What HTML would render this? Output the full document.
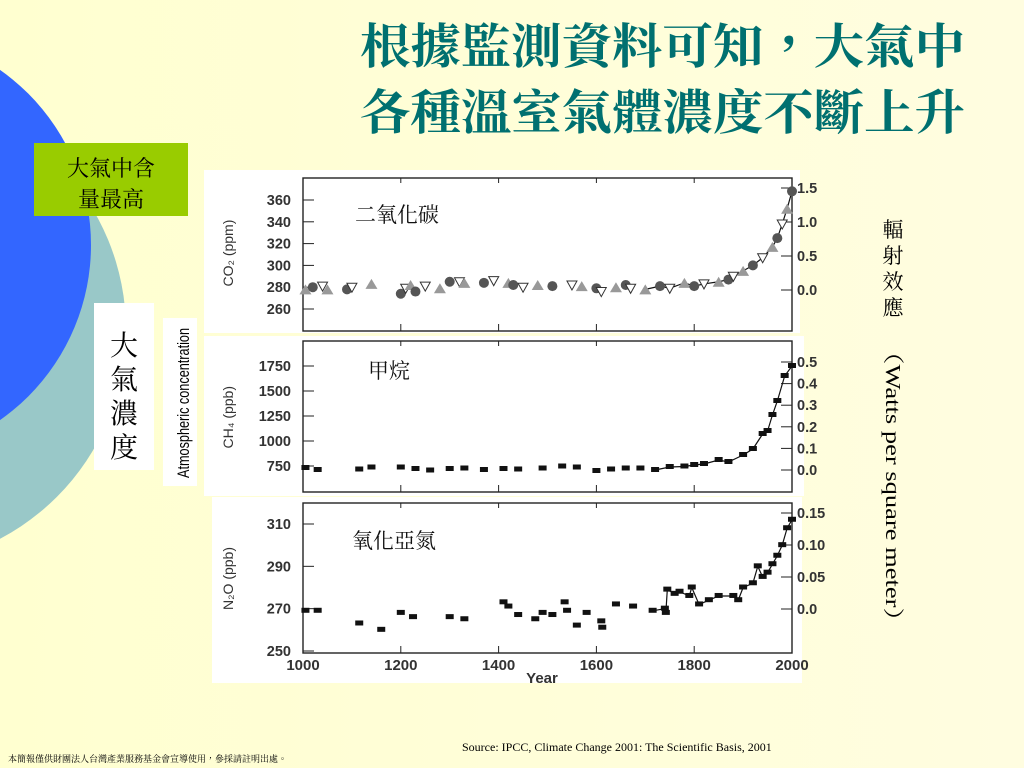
<!DOCTYPE html>
<html><head><meta charset="utf-8"><style>
html,body{margin:0;padding:0;width:1024px;height:768px;overflow:hidden;background:#FFFDD3}
svg{display:block}
text{font-family:"Liberation Sans",sans-serif}
.cj{font-family:"Liberation Serif","Noto Serif CJK TC","Noto Serif CJK SC",serif}
</style></head><body>
<svg width="1024" height="768" viewBox="0 0 1024 768">
<defs><linearGradient id="bg" x1="0" y1="0" x2="1" y2="0"><stop offset="0" stop-color="#FFFFD0"/><stop offset="1" stop-color="#FFFDE0"/></linearGradient></defs>
<rect width="1024" height="768" fill="url(#bg)"/>
<circle cx="-110" cy="330" r="236" fill="#99C8C8"/>
<circle cx="-123" cy="245" r="214" fill="#3366FF"/>
<g class="cj" fill="#007070" font-size="48" font-weight="bold">
<text x="965" y="63" text-anchor="end" textLength="605" lengthAdjust="spacingAndGlyphs" class="cj">根據監測資料可知，大氣中</text>
<text x="965" y="129" text-anchor="end" textLength="605" lengthAdjust="spacingAndGlyphs" class="cj">各種溫室氣體濃度不斷上升</text>
</g>
<rect x="34" y="143" width="154" height="73" fill="#99CC00"/>
<text x="111" y="176" class="cj" font-size="22" text-anchor="middle">大氣中含</text>
<text x="111" y="207" class="cj" font-size="22" text-anchor="middle">量最高</text>
<rect x="94" y="303" width="60" height="167" fill="#fff"/>
<g class="cj" font-size="28" text-anchor="middle">
<text x="124" y="355" class="cj">大</text><text x="124" y="389" class="cj">氣</text><text x="124" y="423" class="cj">濃</text><text x="124" y="457" class="cj">度</text></g>
<rect x="163" y="318" width="34" height="168" fill="#fff"/>
<text transform="translate(189,478) rotate(-90)" font-size="17" textLength="150" lengthAdjust="spacingAndGlyphs">Atmospheric concentration</text>
<rect x="204" y="170" width="596" height="163" fill="#fff"/>
<rect x="204" y="336" width="600" height="160" fill="#fff"/>
<rect x="212" y="497" width="590" height="186" fill="#fff"/>
<g id="charts"></g>
<g class="cj" font-size="21">
<text x="893" y="237" text-anchor="middle" class="cj">輻</text><text x="893" y="263" text-anchor="middle" class="cj">射</text><text x="893" y="289" text-anchor="middle" class="cj">效</text><text x="893" y="315" text-anchor="middle" class="cj">應</text>
<text transform="translate(886,338) rotate(90)" font-family="Liberation Serif" font-size="21" textLength="296" lengthAdjust="spacingAndGlyphs" class="cj">（Watts per square meter）</text></g>
<text x="462" y="751" font-size="12" style="font-family:'Liberation Serif',serif">Source: IPCC, Climate Change 2001: The Scientific Basis, 2001</text>
<text x="8" y="762" class="cj" font-size="9">本簡報僅供財團法人台灣產業服務基金會宣導使用，參採請註明出處。</text>
</svg>
<script>
const co2Years=[1005,1020,1040,1050,1090,1100,1140,1200,1210,1220,1230,1250,1280,1300,1320,1330,1370,1390,1420,1430,1450,1480,1510,1550,1570,1600,1610,1640,1660,1670,1700,1730,1750,1780,1800,1820,1850,1870,1880,1900,1920,1940,1960,1970,1980,1990,2000];
const co2Vals=[278,280,281,278,278,280,283,274,279,282,276,281,279,285,285,284,284,286,284,282,280,282,281,282,281,279,276,280,282,279,278,281,279,284,281,283,285,287,290,295,300,307,317,325,338,352,368];
const ch4Years=[1005,1030,1115,1140,1200,1230,1260,1300,1330,1370,1410,1440,1490,1530,1560,1600,1630,1660,1690,1720,1750,1780,1800,1820,1850,1870,1900,1920,1940,1950,1960,1970,1985,2000];
const ch4Vals=[730,710,715,735,735,720,705,720,725,710,720,715,725,745,735,700,715,725,725,710,740,745,760,770,810,790,860,920,1070,1100,1260,1400,1650,1750];
const n2oYears=[1005,1030,1115,1160,1200,1225,1300,1330,1410,1420,1440,1475,1490,1510,1535,1540,1560,1580,1610,1612,1640,1675,1715,1740,1742,1745,1760,1770,1790,1795,1810,1830,1850,1880,1890,1900,1920,1930,1940,1950,1960,1970,1980,1990,2000];
const n2oVals=[269,269,263,260,268,266,266,265,273,271,267,265,268,267,273,269,262,268,264,261,272,271,269,270,268,279,277,278,276,280,272,274,276,276,274,280,282,290,285,287,291,295,300,308,312];
const co2Ticks=[260,280,300,320,340,360], co2Right=["0.0","0.5","1.0","1.5"];
const ch4Ticks=[750,1000,1250,1500,1750], ch4Right=["0.0","0.1","0.2","0.3","0.4","0.5"];
const n2oTicks=[250,270,290,310], n2oRight=["0.0","0.05","0.10","0.15"];
const xTicks=[1000,1200,1400,1600,1800,2000];

const NS="http://www.w3.org/2000/svg", root=document.getElementById('charts');
function mk(t,a,p){const e=document.createElementNS(NS,t);for(const k in a)e.setAttribute(k,a[k]);(p||root).appendChild(e);return e;}
const x=yr=>303+(yr-1000)/1000*489;
function panel(name,top,bot,y,ticks,right,rTop,rBot,years,vals,label,labelX,labelY,ylab,style,showX){
  const g=mk('g',{});
  
  
  const fr=mk('rect',{x:303,y:top,width:489,height:bot-top,fill:'none',stroke:'#222','stroke-width':1.4},g);
  
  
  ticks.forEach(t=>{const yy=y(t);
    mk('line',{x1:303,x2:314,y1:yy,y2:yy,stroke:'#222'},g);
    const tx=mk('text',{x:291,y:yy+5,'text-anchor':'end','font-size':14.5,'font-weight':'bold',fill:'#333'},g);tx.textContent=t;
    
    });
  right.forEach((r,i)=>{const yy=rBot+(rTop-rBot)*i/(right.length-1);
    mk('line',{x1:781,x2:792,y1:yy,y2:yy,stroke:'#222'},g);
    const tx=mk('text',{x:797,y:yy+5,'font-size':14.5,'font-weight':'bold',fill:'#333'},g);tx.textContent=r;
    
    });
  xTicks.forEach(t=>{mk('line',{x1:x(t),x2:x(t),y1:bot,y2:bot-7,stroke:'#222'},g);mk('line',{x1:x(t),x2:x(t),y1:top,y2:top+5,stroke:'#222'},g);
    if(showX){const tx=mk('text',{x:x(t),y:bot+17,'text-anchor':'middle','font-size':15,'font-weight':'bold',fill:'#333'},g);tx.textContent=t;
      
      }});
  const yl=mk('text',{transform:`translate(233,${(top+bot)/2+32}) rotate(-90)`,'font-size':14,fill:'#333'},g);
  yl.textContent=ylab;
  
  
  let d='';years.forEach((yr,i)=>{if(yr>=1700)d+=(d?'L':'M')+x(yr)+','+y(vals[i]);});
  mk('path',{d:d,fill:'none',stroke:'#111','stroke-width':1.2},g);
  years.forEach((yr,i)=>{const cx=x(yr),cy=y(vals[i]);let m;
    if(style==='co2'){const k=i%3;
      if(k===0)m=mk('polygon',{points:`${cx-6},${cy+5} ${cx+6},${cy+5} ${cx},${cy-5}`,fill:'#999'},g);
      else if(k===1)m=mk('circle',{cx:cx,cy:cy,r:5,fill:'#555'},g);
      else m=mk('polygon',{points:`${cx-5},${cy-4} ${cx+5},${cy-4} ${cx},${cy+5}`,fill:'#fff',stroke:'#333'},g);}
    else m=mk('rect',{x:cx-4,y:cy-3,width:8,height:5,fill:'#111'},g);
    
    });
  const lb=mk('text',{x:labelX,y:labelY,'font-size':21,class:'cj',fill:'#111'},g);lb.textContent=label;
  
  
}
panel('co2',178,331,v=>200+(360-v)*109/100,co2Ticks,co2Right,188,290,co2Years,co2Vals,'二氧化碳',355,222,'CO₂ (ppm)','co2',false);
panel('ch4',341,492,v=>466-(v-750)*100/1000,ch4Ticks,ch4Right,362,470,ch4Years,ch4Vals,'甲烷',368,378,'CH₄ (ppb)','sq',false);
panel('n2o',503,653,v=>651-(v-250)*127/60,n2oTicks,n2oRight,513,609,n2oYears,n2oVals,'氧化亞氮',352,548,'N₂O (ppb)','sq',true);
const yr=mk('text',{x:542,y:683,'text-anchor':'middle','font-size':15,'font-weight':'bold',fill:'#333'});yr.textContent='Year';


</script>
</body></html>
